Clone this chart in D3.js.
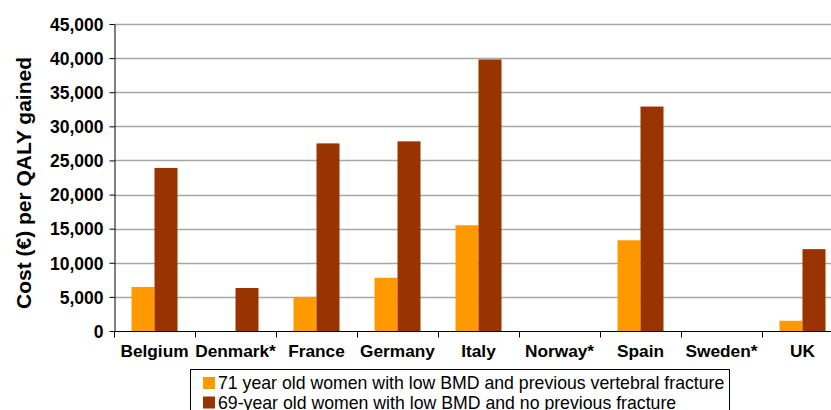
<!DOCTYPE html>
<html><head><meta charset="utf-8">
<script src="https://cdn.jsdelivr.net/npm/d3@7"></script>
<style>body{margin:0;background:#fff;overflow:hidden}svg{display:block}</style>
</head><body>
<script>
const categories = ["Belgium","Denmark*","France","Germany","Italy","Norway*","Spain","Sweden*","UK"];
const seriesNames = ["71 year old women with low BMD and previous vertebral fracture","69-year old women with low BMD and no previous fracture"];
const series71 = [6450, null, 5000, 7800, 15500, null, 13300, null, 1500];
const series69 = [23900, 6300, 27500, 27800, 39800, null, 32900, null, 12000];
const yTicks = [0,5000,10000,15000,20000,25000,30000,35000,40000,45000];
const colors = ["#FF9900","#993300"];

const W=831,H=410;
const svg=d3.select("body").append("svg").attr("width",W).attr("height",H);
const font="'Liberation Sans', Arial, Helvetica, sans-serif";
const x=d3.scaleBand().domain(categories).range([114,843]);
const y=d3.scaleLinear().domain([0,45000]).range([331,24]);

// gridlines
svg.append("g").selectAll("line").data(yTicks.filter(d=>d>0)).join("line")
  .attr("x1",114).attr("x2",W).attr("y1",d=>Math.round(y(d))+0.5).attr("y2",d=>Math.round(y(d))+0.5)
  .attr("stroke","#a6a6a6").attr("stroke-width",1.5);

const bw=23;
const data=[series71,series69];
data.forEach((s,si)=>{
  svg.append("g").selectAll("rect").data(categories.map((c,i)=>({c,v:s[i]})).filter(d=>d.v!=null)).join("rect")
    .attr("x",d=>x(d.c)+x.bandwidth()/2-bw+si*bw)
    .attr("y",d=>y(d.v)).attr("width",bw).attr("height",d=>y(0)-y(d.v))
    .attr("fill",colors[si]);
});

// y axis
const ya=svg.append("g").attr("transform","translate(114.5,0)")
  .call(d3.axisLeft(y).tickValues(yTicks).tickFormat(d3.format(",")).tickSize(5).tickSizeOuter(0));
ya.select(".domain").attr("stroke","#000");
ya.selectAll(".tick line").attr("stroke","#000");
ya.selectAll("text").attr("font-family",font).attr("font-weight","bold").attr("font-size","17.5px").attr("fill","#000").attr("x",-11).attr("dy","0.36em");

// x axis
const xa=svg.append("g").attr("transform","translate(0,331.5)");
xa.append("line").attr("x1",114).attr("x2",W).attr("stroke","#000");
xa.selectAll("line.t").data(categories).join("line").attr("class","t")
  .attr("x1",d=>Math.round(x(d))+0.5).attr("x2",d=>Math.round(x(d))+0.5).attr("y1",0).attr("y2",6).attr("stroke","#000");
xa.selectAll("text").data(categories).join("text")
  .attr("x",d=>x(d)+x.bandwidth()/2).attr("y",25.5).attr("text-anchor","middle")
  .attr("font-family",font).attr("font-weight","bold").attr("font-size","17.3px").text(d=>d);

// y label
svg.append("text").attr("transform","translate(31,183) rotate(-90)").attr("text-anchor","middle")
  .attr("font-family",font).attr("font-weight","bold").attr("font-size","21px").text("Cost (€) per QALY gained");

// legend
const lg=svg.append("g");
lg.append("rect").attr("x",190.5).attr("y",369.5).attr("width",539).attr("height",60).attr("fill","#fff").attr("stroke","#000");
seriesNames.forEach((n,i)=>{
  lg.append("rect").attr("x",203).attr("y",377+i*19.5).attr("width",12).attr("height",12).attr("fill",colors[i]);
  lg.append("text").attr("x",218).attr("y",389+i*19.5).attr("font-family",font).attr("font-size","17.7px").text(n);
});
</script>
</body></html>
